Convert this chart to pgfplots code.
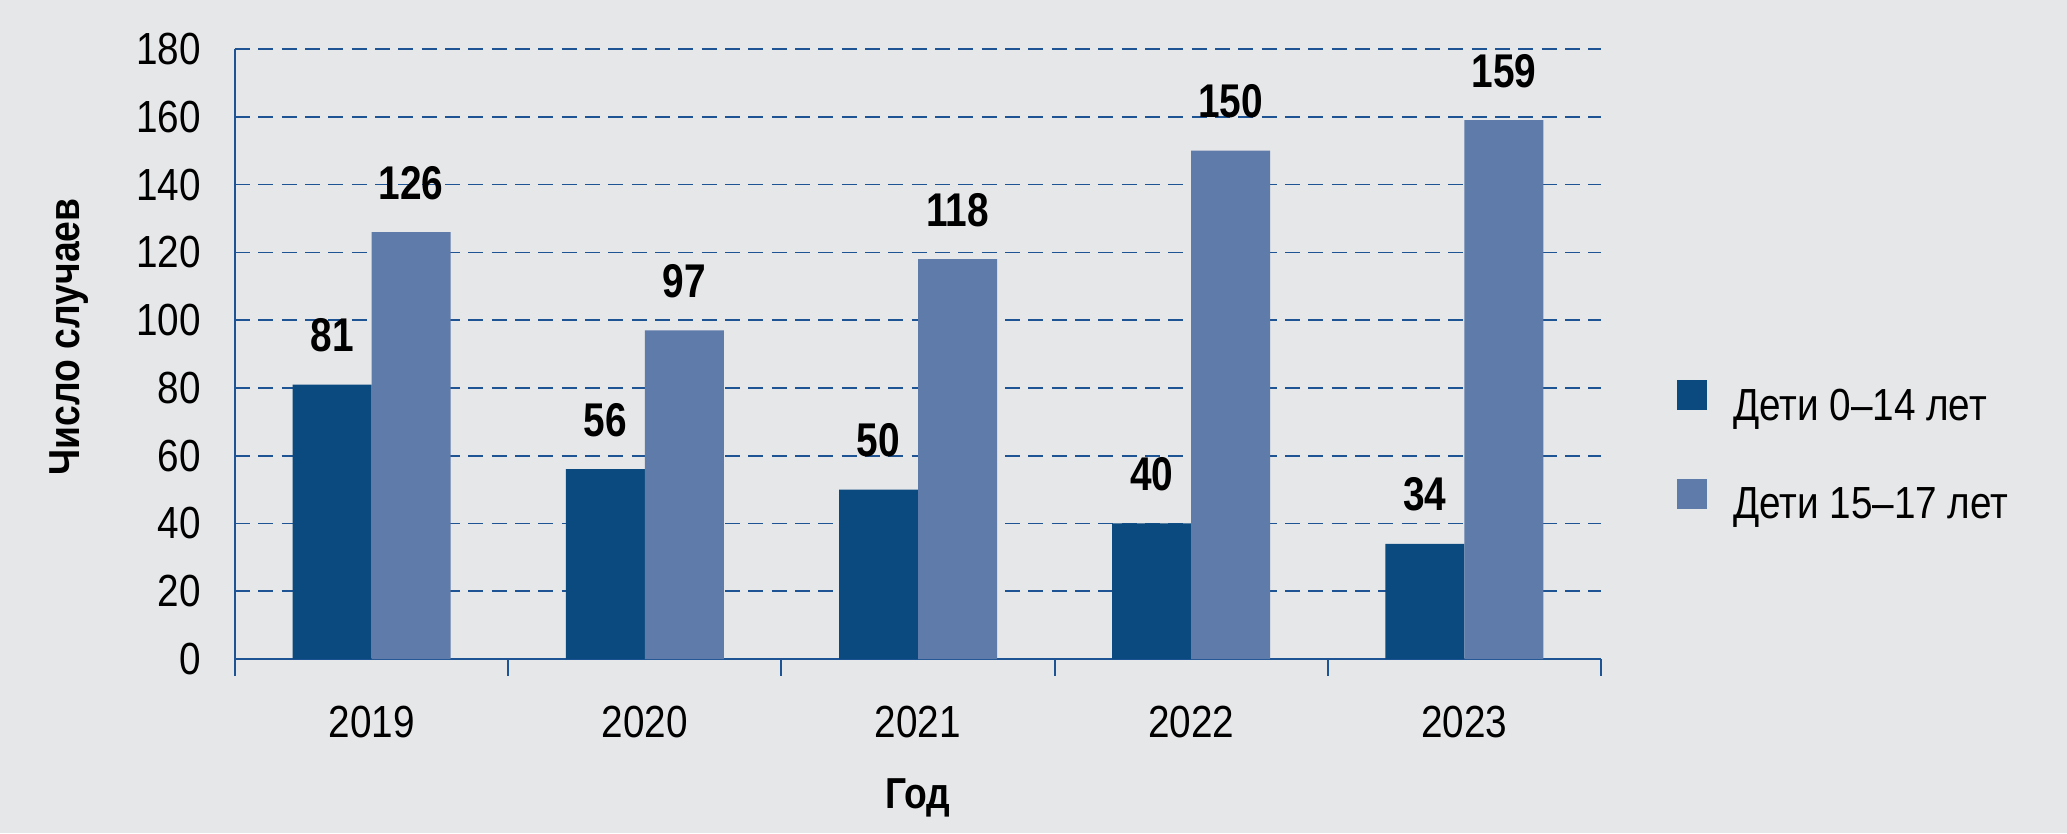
\documentclass[border=0pt]{standalone}
\usepackage{fontspec}
\setmainfont{Liberation Sans}[FakeStretch=0.86]
\newfontfamily\numfont{Liberation Sans}[FakeStretch=0.82]
\usepackage{pgfplots}
\pgfplotsset{compat=1.18}

\definecolor{bg}{HTML}{E6E7E9}
\definecolor{darkbar}{HTML}{0B4A7E}
\definecolor{lightbar}{HTML}{5E7BA9}
\definecolor{axisblue}{HTML}{1E5494}

\newcommand\tkfont{\fontsize{13.5}{16}\selectfont}

\begin{document}
\begin{tikzpicture}
% background, picture is 2067x833 px at 0.3pt per px
\fill[bg] (-70.5pt,-52.2pt) rectangle (549.6pt,197.7pt);
\begin{axis}[
    scale only axis,
    width=409.8pt, height=183pt,
    xmin=-0.5, xmax=4.5,
    ymin=0, ymax=180,
    ybar=0pt, bar width=23.7pt,
    axis x line*=bottom, axis y line*=left,
    axis line style={draw=axisblue, line width=0.6pt},
    xtick={-0.5,0.5,1.5,2.5,3.5,4.5},
    xticklabels={2019,2020,2021,2022,2023},
    x tick label as interval,
    xtick align=outside,
    major tick length=5pt,
    xtick style={draw=axisblue, line width=0.6pt},
    ytick={0,20,...,180},
    ytick style={draw=none},
    ymajorgrids=true,
    grid style={draw=axisblue, line width=0.5pt, dash pattern=on 4.5pt off 2.5pt},
    /pgf/number format/assume math mode=true,
    tick label style={font=\tkfont},
    xticklabel shift=0pt,
    xticklabel style={anchor=base, yshift=-18.6pt},
    yticklabel style={anchor=east, inner sep=0pt, xshift=-10pt},
    ylabel={Число случаев},
    ylabel style={at={(axis description cs:-0.1135,0.528)}, anchor=base,
        font=\fontsize{13}{15}\selectfont\bfseries},
    xlabel={Год},
    xlabel style={at={(axis description cs:0.5,-0.2443)}, anchor=base,
        font=\fontsize{13}{15}\selectfont\bfseries},
    nodes near coords,
    every node near coord/.append style={anchor=base, inner sep=0pt, yshift=9.9pt,
        font=\numfont\bfseries\fontsize{14.2}{16}\selectfont, text=black},
    legend style={at={(axis description cs:1,0.4574)}, anchor=north west, xshift=22.8pt,
        draw=none, fill=none, inner sep=0pt, outer sep=0pt,
        row sep=14.55pt, column sep=7.8pt,
        nodes={inner sep=0pt, text height=9pt, text depth=3pt, font=\tkfont}},
    legend cell align=left,
    clip=false,
]
\addplot[fill=darkbar, draw=none,
    legend image code/.code={\fill[darkbar] (0pt,0pt) rectangle (9pt,9pt);}]
    coordinates {(0,81) (1,56) (2,50) (3,40) (4,34)};
\addplot[fill=lightbar, draw=none,
    legend image code/.code={\fill[lightbar] (0pt,0pt) rectangle (9pt,9pt);}]
    coordinates {(0,126) (1,97) (2,118) (3,150) (4,159)};
\legend{Дети 0–14 лет, Дети 15–17 лет}
\end{axis}
\pgfresetboundingbox
\path[use as bounding box] (-70.5pt,-52.2pt) rectangle (549.6pt,197.7pt);
\end{tikzpicture}
\end{document}
